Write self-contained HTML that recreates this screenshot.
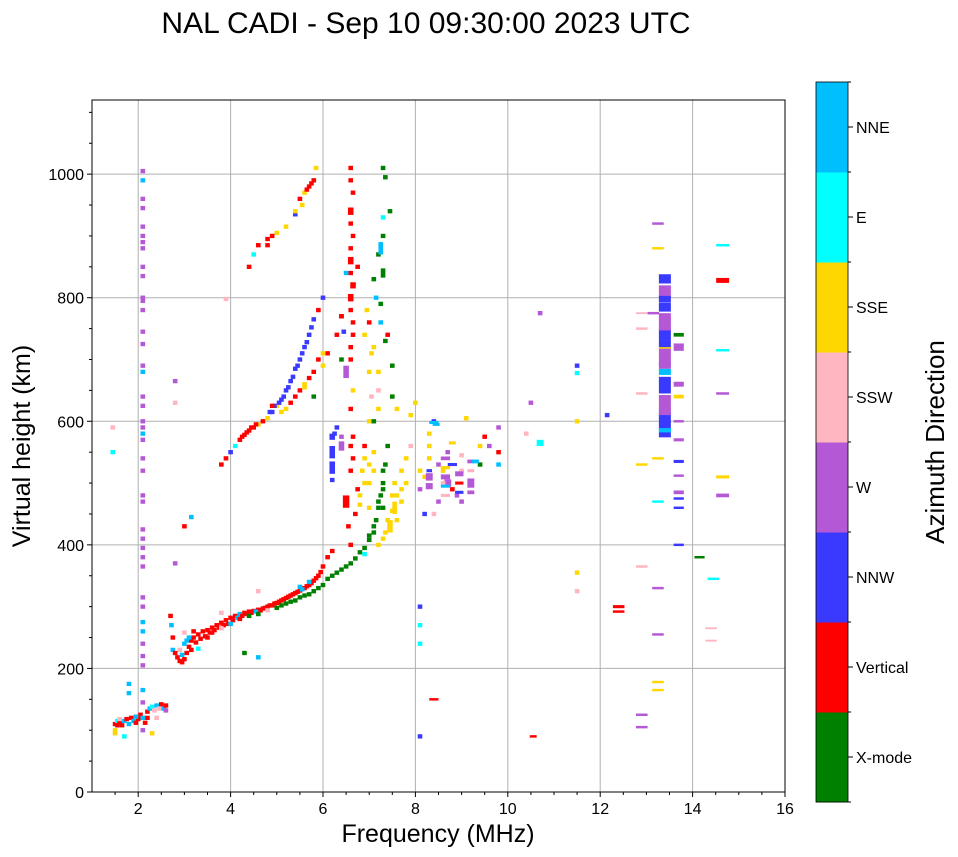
<!DOCTYPE html>
<html><head><meta charset="utf-8">
<style>
body{margin:0;background:#fff;}
svg{display:block;font-family:"Liberation Sans","DejaVu Sans",sans-serif;}
</style></head>
<body>
<svg id="chart" width="958" height="857" viewBox="0 0 958 857">
<text x="426" y="33" font-size="30" text-anchor="middle">NAL CADI - Sep 10 09:30:00 2023 UTC</text>
<g id="grid"></g>
<g id="marks"></g>
<g id="axes"></g>
<g id="cbar"></g>
<text x="438" y="842" font-size="25" text-anchor="middle">Frequency (MHz)</text>
<text transform="translate(30,446) rotate(-90)" font-size="25" text-anchor="middle">Virtual height (km)</text>
<text transform="translate(944,442) rotate(-90)" font-size="26" text-anchor="middle">Azimuth Direction</text>
</svg>
<script>
const xTicks=[2,4,6,8,10,12,14,16];
const yTicks=[0,200,400,600,800,1000];
const categories=["X-mode","Vertical","NNW","W","SSW","SSE","E","NNE"];
const catColors=["#008000","#ff0000","#3a3aff","#b558d6","#ffb6c1","#ffd700","#00ffff","#00bfff"];
const catCodes=["X","V","N","W","P","S","E","C"];
// echoes: freq MHz, height km, category code, [width MHz], [height span km]
const echoes=[
[1.5,110,"V"],[1.5,100,"S"],[1.5,95,"S"],[1.55,115,"E"],[1.6,112,"V"],[1.65,108,"V"],[1.7,115,"C"],[1.75,118,"V"],[1.8,110,"C"],[1.85,120,"V"],[1.9,115,"C"],[1.95,112,"V"],[2.0,118,"V"],[2.05,125,"V"],[2.1,120,"C"],[2.2,130,"V"],[2.25,135,"C"],[2.3,138,"E"],[2.35,132,"P"],[2.4,140,"C"],[2.5,142,"V"],[2.55,135,"C"],[2.6,140,"V"],[2.3,95,"S"],[1.7,90,"E"],[1.8,175,"C"],[1.8,160,"C"],[2.1,165,"C"],[2.4,120,"P"],[2.15,112,"V"],[1.55,108,"V"],[1.6,118,"P"],[1.95,122,"C"],[2.2,120,"V"],[2.45,135,"P"],[2.6,132,"W"],
[2.7,285,"V"],[2.72,270,"C"],[2.75,250,"V"],[2.75,230,"C"],[2.8,225,"V"],[2.85,218,"V"],[2.9,212,"V"],[2.95,210,"V"],[3.0,215,"V"],[3.05,225,"V"],[3.1,235,"V"],[3.15,245,"V"],[3.2,250,"V"],[3.1,250,"C"],[3.0,258,"P"],[2.9,230,"P"],[3.0,240,"C"],[3.3,232,"E"],[3.2,260,"V"],[3.05,245,"C"],[3.15,230,"V"],[2.95,222,"C"],[3.25,242,"V"],
[3.3,255,"V"],[3.4,260,"V"],[3.5,262,"V"],[3.6,266,"V"],[3.7,270,"V"],[3.8,274,"V"],[3.9,278,"V"],[4.0,282,"V"],[4.1,285,"V"],[4.2,288,"C"],[4.3,290,"V"],[4.4,292,"V"],[4.5,293,"V"],[4.6,295,"V"],[4.7,297,"V"],[4.8,300,"V"],[4.9,302,"V"],[5.0,306,"V"],[5.1,310,"V"],[5.2,314,"V"],[5.3,318,"V"],[5.4,322,"V"],[5.5,326,"V"],[5.6,330,"V"],[5.7,335,"V"],[5.8,342,"V"],[5.9,350,"V"],[6.0,365,"V"],[6.1,380,"V"],
[3.35,248,"V"],[3.45,252,"V"],[3.55,258,"V"],[3.65,262,"V"],[3.75,266,"V"],[3.85,270,"V"],[3.95,272,"V"],[4.05,278,"V"],[4.15,282,"C"],[4.25,285,"V"],[4.35,288,"V"],[4.45,290,"V"],[4.55,292,"C"],[4.65,294,"V"],[4.75,298,"V"],[4.85,302,"V"],[4.95,305,"V"],[5.05,308,"V"],[5.15,312,"V"],[5.25,316,"V"],[5.35,320,"V"],[5.45,324,"V"],[5.55,328,"C"],[5.65,333,"V"],[5.75,338,"V"],[5.85,346,"V"],[5.95,356,"V"],
[3.5,250,"V"],[3.6,258,"V"],[3.8,265,"P"],[4.0,272,"C"],[4.2,280,"V"],[4.4,285,"X"],[4.6,288,"X"],[4.8,294,"P"],[5.0,298,"X"],[5.2,305,"X"],[5.4,310,"X"],[5.6,318,"X"],[5.8,325,"X"],[6.0,335,"X"],[6.1,345,"X"],[6.3,355,"X"],[6.5,365,"X"],[5.5,332,"C"],[5.7,340,"C"],[6.2,390,"V"],[4.6,325,"P"],[3.8,290,"P"],[5.1,302,"X"],[5.3,308,"X"],[5.5,315,"X"],[5.7,320,"X"],[5.9,330,"X"],[6.2,350,"X"],[6.4,360,"X"],[6.6,370,"X"],
[6.7,378,"X"],[6.8,388,"X"],[6.9,395,"X"],[7.0,408,"X"],[7.1,420,"X"],[7.15,440,"X"],[7.2,460,"X"],[7.25,480,"X"],[7.3,500,"X"],[7.35,530,"X"],[7.4,560,"X"],[7.3,460,"X"],[6.9,385,"E"],[7.1,430,"X"],[7.2,470,"X"],[7.3,490,"X"],[7.3,520,"X"],[7.0,415,"X"],
[7.2,400,"S"],[7.3,410,"S"],[7.35,420,"S"],[7.4,440,"S"],[7.5,455,"S"],[7.6,480,"S"],[7.55,500,"S"],[7.7,520,"S"],[7.8,540,"S"],[7.0,460,"S"],[6.9,500,"S"],[7.0,530,"S"],[6.8,480,"S"],[7.1,550,"S"],[7.6,440,"S"],[7.8,500,"S"],[7.9,610,"S"],[7.9,560,"P"],[7.45,430,"S",0.12,20],[7.55,460,"S",0.1,20],[7.5,480,"S"],[6.8,465,"S"],[6.85,520,"S"],[6.9,540,"S"],[7.0,500,"S"],[7.1,520,"S"],[6.7,450,"V"],[6.75,490,"V"],[7.7,490,"S"],[7.7,470,"S"],[8.3,580,"S"],[8.3,560,"S"],[8.2,510,"S"],
[3.8,530,"V"],[3.9,540,"V"],[4.0,550,"N"],[4.1,560,"E"],[4.2,570,"V"],[4.3,578,"V"],[4.4,585,"V"],[4.5,590,"V"],[4.6,595,"S"],[4.7,600,"V"],[4.8,605,"S"],[4.9,615,"N"],[5.0,625,"S"],[5.1,635,"N"],[5.2,650,"N"],[5.3,665,"N"],[5.4,685,"N"],[5.5,700,"N"],[5.6,720,"N"],[5.7,740,"N"],[5.8,765,"N"],[5.9,780,"V"],[6.0,800,"N"],
[4.25,575,"V"],[4.35,582,"V"],[4.45,590,"V"],[4.55,595,"V"],[4.85,615,"N"],[4.95,625,"N"],[5.05,630,"N"],[5.15,640,"N"],[5.25,655,"N"],[5.35,672,"N"],[5.45,690,"N"],[5.55,710,"N"],[5.65,728,"N"],[5.75,752,"N"],
[4.9,625,"V"],[5.1,615,"S"],[5.3,630,"V"],[5.5,650,"V"],[5.6,660,"S"],[5.7,670,"V"],[5.9,700,"V"],[6.0,690,"S"],[6.1,710,"V"],[6.3,740,"V"],[6.4,770,"V"],[5.8,640,"X"],[6.0,710,"S"],[5.2,620,"S"],[5.4,640,"V"],[5.6,655,"S"],[5.8,680,"V"],
[4.4,850,"V"],[4.5,870,"E"],[4.6,885,"V"],[4.8,895,"V"],[4.9,900,"V"],[5.0,905,"S"],[5.2,915,"S"],[5.4,935,"N"],[5.5,960,"V"],[5.6,970,"S"],[5.7,980,"V"],[5.8,990,"V"],[5.85,1010,"S"],[5.4,940,"S"],[4.8,885,"V"],[5.55,950,"S"],[5.65,975,"V"],[5.75,985,"V"],
[6.6,400,"V"],[6.55,430,"V"],[6.5,470,"V",0.14,20],[6.6,520,"V"],[6.65,540,"V"],[6.6,560,"V"],[6.65,575,"V"],[6.6,620,"V"],[6.65,650,"S"],[6.5,680,"W",0.12,20],[6.6,720,"V"],[6.65,760,"V"],[6.6,780,"V"],[6.6,800,"V",0.12,12],[6.65,820,"V",0.12,10],[6.6,840,"V"],[6.6,860,"V",0.12,12],[6.6,880,"V"],[6.65,900,"V"],[6.6,920,"V"],[6.6,940,"V",0.12,12],[6.65,970,"V"],[6.6,1010,"V"],[6.5,840,"C"],[6.4,770,"V"],[6.4,700,"X"],[6.45,745,"N"],[6.75,850,"V"],[6.6,990,"V"],[6.6,700,"V"],[6.65,740,"V"],
[6.2,525,"N",0.12,20],[6.2,550,"N",0.12,20],[6.25,580,"N"],[6.3,590,"N"],[6.4,560,"W",0.12,15],[6.4,575,"W"],[6.2,505,"N"],[6.2,575,"N",0.12,10],
[6.9,560,"V"],[7.0,600,"S"],[7.05,640,"P"],[7.0,680,"S"],[7.1,720,"S"],[7.0,760,"V"],[7.15,800,"C"],[7.1,830,"X"],[7.2,870,"X"],[7.3,900,"X"],[7.3,930,"E"],[7.3,1010,"X"],[7.35,995,"X"],[7.45,940,"X"],[7.25,760,"C"],[7.35,730,"X"],[7.5,690,"X"],[7.5,640,"X"],[7.2,680,"S"],[7.4,740,"V"],[7.6,620,"S"],[6.9,740,"S"],[7.1,600,"X"],[7.25,880,"C",0.1,20],[7.3,840,"X",0.1,15],[7.25,790,"X"],[6.95,780,"S"],[7.05,710,"S"],[7.2,650,"P"],[7.2,620,"S"],
[8.1,490,"W"],[8.3,510,"W",0.15,12],[8.5,530,"W"],[8.7,500,"W",0.15,12],[8.9,480,"W"],[9.0,520,"P"],[9.2,500,"W",0.15,15],[9.4,530,"X"],[9.6,560,"W"],[9.8,590,"W"],[9.8,550,"V"],[8.4,600,"N"],[8.0,630,"S"],[8.2,450,"N"],[8.5,470,"W"],[8.7,550,"W"],[9.1,605,"S"],[9.0,470,"W"],[8.3,540,"S"],[8.6,520,"S"],[8.8,490,"V"],[9.4,560,"S"],[9.8,530,"C"],[8.1,520,"S"],[8.6,500,"P"],[9.0,545,"P"],
[8.65,540,"W",0.2,6],[8.65,525,"S",0.2,5],[8.65,510,"W",0.2,8],[8.65,495,"C",0.2,5],[8.65,480,"P",0.2,5],[8.95,515,"W",0.18,8],[8.95,500,"V",0.18,5],[8.95,485,"N",0.18,5],[9.2,535,"W",0.15,6],[9.2,520,"P",0.15,5],[9.2,485,"W",0.15,6],[8.3,495,"W",0.15,10],[8.3,520,"N",0.12,5],[8.8,530,"N",0.2,5],[9.3,535,"C",0.15,6],[8.45,595,"C",0.15,5],[8.8,565,"S",0.15,5],[9.5,575,"V"],
[13.4,600,"N",0.26,30],[13.4,630,"W",0.26,25],[13.4,655,"N",0.26,20],[13.4,680,"C",0.26,10],[13.4,705,"W",0.26,30],[13.4,740,"N",0.26,20],[13.4,765,"W",0.26,20],[13.4,785,"N",0.26,15],[13.4,810,"W",0.26,20],[13.4,828,"N",0.26,10],[13.4,585,"C",0.26,8],[13.4,720,"S",0.26,5],[13.4,578,"N",0.26,8],[13.4,615,"W",0.26,10],[13.4,668,"N",0.26,8],[13.4,690,"W",0.26,10],[13.4,725,"N",0.26,10],[13.4,752,"W",0.26,10],[13.4,798,"N",0.26,10],[13.4,835,"N",0.26,6],
[13.7,740,"X",0.22,6],[13.7,720,"W",0.22,12],[13.7,660,"W",0.22,8],[13.7,640,"S",0.22,6],[13.7,570,"W",0.22,5],[13.7,535,"N",0.22,5],[13.7,485,"W",0.22,6],[13.7,475,"N",0.22,4],[13.7,400,"N",0.22,4],[13.7,460,"N",0.22,4],[13.7,600,"W",0.22,4],[13.7,512,"W",0.22,4],
[2.1,1005,"W"],[2.1,960,"W"],[2.1,945,"W"],[2.1,900,"W"],[2.1,880,"W"],[2.1,850,"W"],[2.1,835,"W"],[2.1,800,"W"],[2.1,780,"W"],[2.1,745,"W"],[2.1,725,"W"],[2.1,690,"W"],[2.1,640,"W"],[2.1,625,"W"],[2.1,590,"W"],[2.1,570,"W"],[2.1,540,"W"],[2.1,520,"W"],[2.1,480,"W"],[2.1,425,"W"],[2.1,410,"W"],[2.1,380,"W"],[2.1,365,"W"],[2.1,315,"W"],[2.1,300,"W"],[2.1,275,"C"],[2.1,260,"C"],[2.1,220,"W"],[2.1,205,"W"],[2.1,145,"W"],[2.1,100,"W"],[2.1,990,"C"],[2.1,915,"W"],[2.1,890,"W"],[2.1,795,"W"],[2.1,680,"C"],[2.1,600,"W"],[2.1,580,"C"],[2.1,470,"W"],[2.1,395,"W"],[2.1,240,"W"],
[2.8,665,"W"],[2.8,630,"P"],[2.8,370,"W"],[3.0,430,"V"],[3.15,445,"C"],[1.45,590,"P"],[1.45,550,"E"],[3.9,798,"P"],[4.6,218,"C"],[4.3,225,"X"],[8.1,300,"N"],[8.1,270,"E"],[8.1,240,"E"],[8.1,90,"N"],[8.4,150,"V",0.2,4],[8.4,450,"P"],[8.4,598,"C",0.2,5],
[10.7,565,"E",0.15,10],[10.7,775,"W"],[10.5,630,"W"],[10.4,580,"P"],[10.55,90,"V",0.15,4],[11.5,690,"N"],[11.5,678,"E"],[11.5,600,"S"],[11.5,355,"S"],[11.5,325,"P"],[12.15,610,"N"],[12.4,300,"V",0.25,5],[12.4,292,"V",0.25,4],[12.9,750,"P",0.25,4],[12.9,645,"P",0.25,4],[12.9,530,"S",0.25,4],[12.9,365,"P",0.25,4],[12.9,125,"W",0.25,4],[12.9,105,"W",0.25,4],[13.25,920,"W",0.25,4],[13.25,880,"S",0.25,4],[13.25,470,"E",0.25,4],[13.25,540,"S",0.25,4],[13.25,330,"W",0.25,4],[13.25,255,"W",0.25,4],[13.25,178,"S",0.25,4],[13.25,165,"S",0.25,4],[13.15,775,"W",0.25,4],[12.9,775,"P",0.25,3],
[14.15,380,"X",0.22,4],[14.45,345,"E",0.25,4],[14.4,265,"P",0.25,3],[14.4,245,"P",0.25,3],[14.65,885,"E",0.28,4],[14.65,828,"V",0.28,8],[14.65,715,"E",0.28,4],[14.65,645,"W",0.28,4],[14.65,510,"S",0.28,5],[14.65,480,"W",0.28,6]
];
const NS="http://www.w3.org/2000/svg";
const X0=92,X1=785,Y0=100,Y1=792,FMIN=1,FMAX=16,HMIN=0,HMAX=1120;
function xs(f){return X0+(f-FMIN)/(FMAX-FMIN)*(X1-X0);}
function ys(h){return Y1-(h-HMIN)/(HMAX-HMIN)*(Y1-Y0);}
function mk(tag,attrs,parent){const e=document.createElementNS(NS,tag);for(const k in attrs)e.setAttribute(k,attrs[k]);parent.appendChild(e);return e;}
const grid=document.getElementById('grid'),axes=document.getElementById('axes'),marks=document.getElementById('marks'),cbar=document.getElementById('cbar');
xTicks.forEach(t=>{
  const x=xs(t);
  if(t<FMAX){const g=mk('line',{x1:x,x2:x,y1:Y0,y2:Y1,stroke:'#b0b0b0','stroke-width':1},grid);
  
  }
  mk('line',{x1:x,x2:x,y1:Y1,y2:Y1+5,stroke:'#000'},axes);
  const tx=mk('text',{x:x,y:Y1+22,'font-size':16,'text-anchor':'middle'},axes);tx.textContent=t;
  
  
});
for(let f=1.5;f<16;f+=0.5){if(f%2!==0)mk('line',{x1:xs(f),x2:xs(f),y1:Y1,y2:Y1+3,stroke:'#000'},axes);}
yTicks.forEach(t=>{
  const y=ys(t);
  if(t>0){const g=mk('line',{x1:X0,x2:X1,y1:y,y2:y,stroke:'#b0b0b0','stroke-width':1},grid);
  
  }
  mk('line',{x1:X0-5,x2:X0,y1:y,y2:y,stroke:'#000'},axes);
  const tx=mk('text',{x:X0-8,y:y+6,'font-size':16,'text-anchor':'end'},axes);tx.textContent=t;
  
  
});
for(let h=50;h<HMAX;h+=50){if(h%200!==0)mk('line',{x1:X0-3,x2:X0,y1:ys(h),y2:ys(h),stroke:'#000'},axes);}
mk('rect',{x:X0,y:Y0,width:X1-X0,height:Y1-Y0,fill:'none',stroke:'#000','stroke-width':1},axes);
echoes.forEach(e=>{
  const ci=catCodes.indexOf(e[2]);
  const w=e[3]||0.1, dh=e[4]||7;
  const r=mk('rect',{x:xs(e[0]-w/2),y:ys(e[1]+dh/2),width:xs(w)-xs(0),height:ys(0)-ys(dh),fill:catColors[ci]},marks);
  
  
});
const CX=816,CW=32,CT=82,CB=802,bh=(CB-CT)/categories.length;
categories.forEach((c,i)=>{
  const y=CB-(i+1)*bh;
  const r=mk('rect',{x:CX,y:y,width:CW,height:bh+0.5,fill:catColors[i]},cbar);
  
  
  mk('line',{x1:CX+CW,x2:CX+CW+5,y1:y+bh/2,y2:y+bh/2,stroke:'#000'},cbar);
  const t=mk('text',{x:CX+CW+8,y:y+bh/2+6,'font-size':16},cbar);t.textContent=c;
  
  
});
for(let i=0;i<=categories.length;i++){mk('line',{x1:CX+CW,x2:CX+CW+3,y1:CT+i*bh,y2:CT+i*bh,stroke:'#000'},cbar);}
mk('rect',{x:CX,y:CT,width:CW,height:CB-CT,fill:'none',stroke:'#000','stroke-width':0.8},cbar);
</script>
</body></html>
